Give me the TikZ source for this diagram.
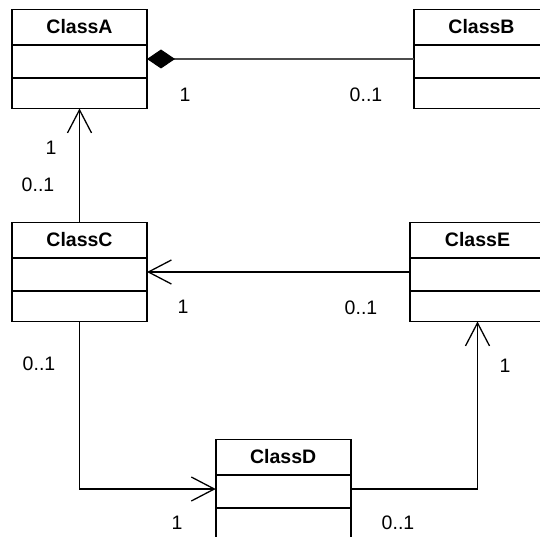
\documentclass[tikz,border=0pt]{standalone}
\usepackage{fontspec}
\setmainfont{Liberation Sans}
\usetikzlibrary{arrows.meta,calc}
\tikzset{
  umlclass/.style={draw, line width=1.6pt, minimum width=135pt, minimum height=99pt, anchor=north west, inner sep=0pt, outer sep=0pt},
  classtitle/.style={font=\fontsize{19.5}{21}\selectfont\bfseries, inner sep=0pt},
  divider/.style={line width=1.6pt},
  assoc/.style={line width=1.1pt, -{Straight Barb[length=23pt,width=24pt,line width=1.3pt]}},
  comp/.style={line width=1.1pt, draw=black!70, {Diamond[length=28pt,width=19pt,fill=black,color=black]}-},
  mult/.style={font=\fontsize{19.5}{21}\selectfont, inner sep=0pt}
}
\newcommand{\umlbox}[3]{%
  \node[umlclass] (#1) at (#2) {};
  \node[classtitle] (#1t) at ($(#1.north)+(0,17.5)$) {#3};
  \draw[divider] ($(#1.north west)+(0,35.5)$) -- ($(#1.north east)+(0,35.5)$);
  \draw[divider] ($(#1.north west)+(0,68.5)$) -- ($(#1.north east)+(0,68.5)$);
}
\begin{document}
\begin{tikzpicture}[x=1pt,y=-1pt]
\useasboundingbox (0,0) rectangle (540,537);
\fill[white] (0,0) rectangle (540,537);
\clip (0,0) rectangle (540,537);
\umlbox{A}{12,9.5}{ClassA}
\umlbox{B}{414,9.5}{ClassB}
\umlbox{C}{12,222.5}{ClassC}
\umlbox{E}{410,222.5}{ClassE}
\umlbox{D}{215.7,439.5}{ClassD}
\draw[comp] (A.east) -- (B.west);
\draw[assoc] (C.north) -- (A.south);
\draw[assoc] (E.west) -- (C.east);
\draw[assoc] (C.south) |- (D.west);
\draw[assoc] (D.east) -| (E.south);
\node[mult] (m1) at (185,95) {1};
\node[mult] (m2) at (366,95) {0..1};
\node[mult] (m3) at (51,148) {1};
\node[mult] (m4) at (38,185) {0..1};
\node[mult] (m5) at (183,307) {1};
\node[mult] (m6) at (361,308) {0..1};
\node[mult] (m7) at (39,364) {0..1};
\node[mult] (m8) at (505,366) {1};
\node[mult] (m9) at (177,523) {1};
\node[mult] (m10) at (398,523) {0..1};
\end{tikzpicture}
\end{document}
